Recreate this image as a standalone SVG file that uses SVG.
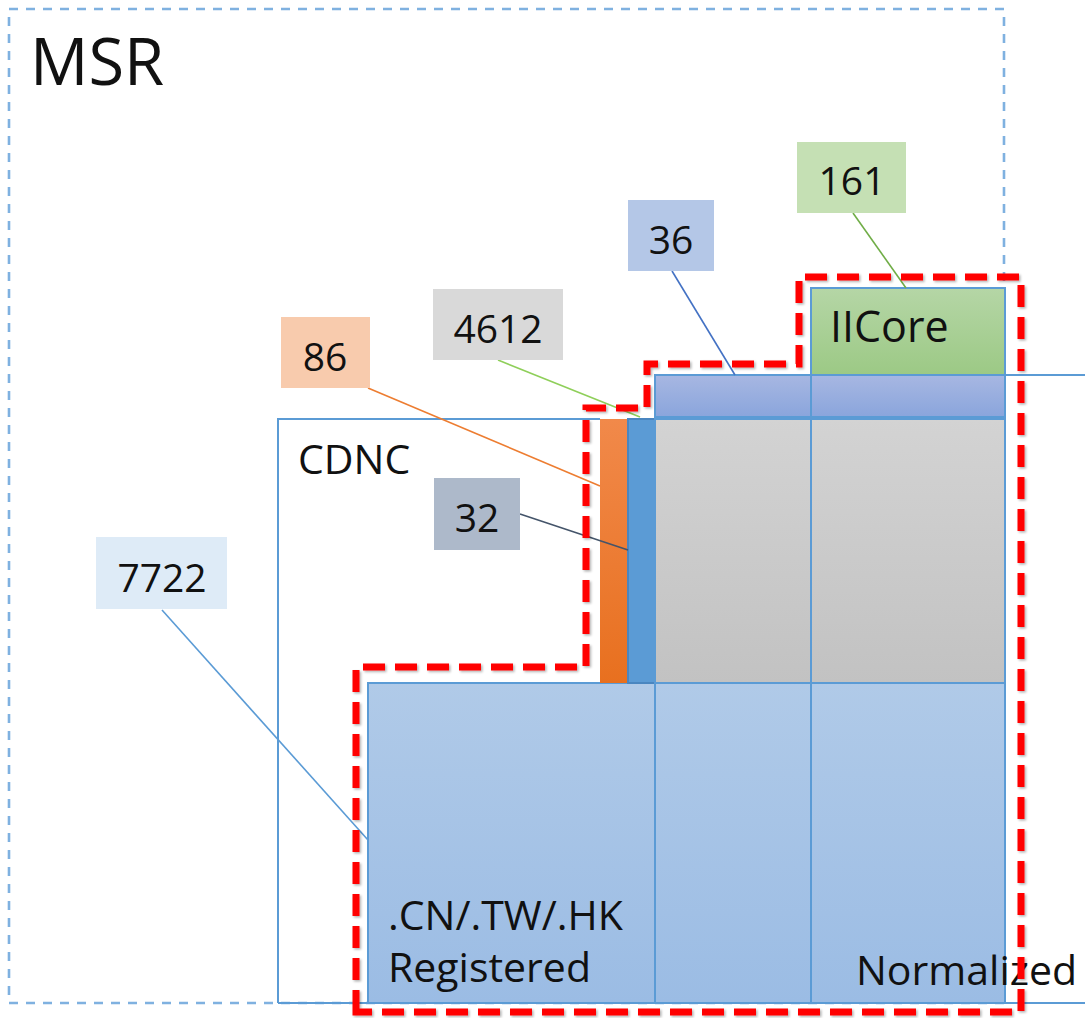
<svg xmlns="http://www.w3.org/2000/svg" width="1085" height="1018" viewBox="0 0 1085 1018">
<style>
  text { font-family: "Open Sans", "Liberation Sans", sans-serif; fill: #111; }
  .lbl { font-size: 39px; text-anchor: middle; }
  .big { font-size: 41px; }
  .edge { stroke: #5b9bd5; stroke-width: 2; }
  .conn { fill: none; stroke-width: 1.6; }
</style>
<defs>
  <linearGradient id="gBlue" x1="0" y1="0" x2="0" y2="1"><stop offset="0" stop-color="#b0cae8"/><stop offset="1" stop-color="#9bbce4"/></linearGradient>
  <linearGradient id="gGrey" x1="0" y1="0" x2="0" y2="1"><stop offset="0" stop-color="#d3d3d3"/><stop offset="1" stop-color="#c2c2c2"/></linearGradient>
  <linearGradient id="gPurp" x1="0" y1="0" x2="0" y2="1"><stop offset="0" stop-color="#a7b7e2"/><stop offset="1" stop-color="#8aa5dc"/></linearGradient>
  <linearGradient id="gGreen" x1="0" y1="0" x2="0" y2="1"><stop offset="0" stop-color="#b5d6a6"/><stop offset="1" stop-color="#9cc985"/></linearGradient>
  <linearGradient id="gOrange" x1="0" y1="0" x2="0" y2="1"><stop offset="0" stop-color="#f1894a"/><stop offset="1" stop-color="#e8701f"/></linearGradient>
  <filter id="sh" x="-5%" y="-5%" width="110%" height="110%"><feDropShadow dx="1.5" dy="1.5" stdDeviation="1.2" flood-color="#000" flood-opacity="0.3"/></filter>
</defs>

<g id="msr">
  <rect x="9" y="9" width="995" height="994" fill="none" stroke="#7fb1e0" stroke-width="2.6" stroke-dasharray="9 8"/>
  <text x="30" y="85" font-size="65">MSR</text>
</g>

<g id="cdnc">
  <path d="M278 1003 V419 H600" fill="none" class="edge"/>
  <line x1="278" y1="1003" x2="368" y2="1003" class="edge"/>
  <line x1="1005" y1="1003" x2="1085" y2="1003" class="edge"/>
  <line x1="1005" y1="375" x2="1085" y2="375" class="edge"/>
  <text x="298" y="474" class="big">CDNC</text>
</g>

<g id="registered">
  <rect x="368" y="683" width="637" height="320" fill="url(#gBlue)" class="edge"/>
  <text x="388" y="930" class="big">.CN/.TW/.HK</text>
  <text x="388" y="982" class="big">Registered</text>
</g>

<g id="grey-area">
  <rect x="655" y="419" width="350" height="264" fill="url(#gGrey)" class="edge"/>
</g>

<g id="band36">
  <rect x="655" y="375" width="350" height="42" fill="url(#gPurp)" class="edge"/>
</g>

<g id="iicore">
  <rect x="811" y="288" width="194" height="87" fill="url(#gGreen)" class="edge"/>
  <text x="830" y="342" font-size="43">IICore</text>
</g>

<g id="bar86">
  <rect x="600" y="419" width="28" height="264" fill="url(#gOrange)"/>
</g>
<g id="bar32">
  <rect x="628" y="419" width="27" height="264" fill="#5b9bd5" stroke="#4a86c0" stroke-width="2"/>
</g>

<g id="dividers">
  <line x1="655" y1="375" x2="655" y2="1003" class="edge"/>
  <line x1="811" y1="288" x2="811" y2="1003" class="edge"/>
</g>

<g id="normalized">
  <text x="856" y="985" class="big">Normalized</text>
</g>

<g id="connectors">
  <line x1="853" y1="213" x2="906" y2="288" stroke="#70ad47" class="conn"/>
  <line x1="672" y1="271" x2="735" y2="375" stroke="#4472c4" class="conn"/>
  <line x1="498" y1="360" x2="640" y2="417" stroke="#8fcf5a" class="conn"/>
  <line x1="368" y1="388" x2="600" y2="486" stroke="#ed7d31" class="conn"/>
  <line x1="520" y1="514" x2="628" y2="550" stroke="#44546a" class="conn"/>
  <line x1="162" y1="610" x2="368" y2="840" stroke="#5b9bd5" class="conn"/>
</g>

<g id="label161"><rect x="797" y="142" width="109" height="71" fill="#c5e0b4"/><text x="852" y="195" class="lbl">161</text></g>
<g id="label36"><rect x="628" y="200" width="86" height="71" fill="#b4c7e7"/><text x="671" y="254" class="lbl">36</text></g>
<g id="label4612"><rect x="433" y="289" width="130" height="71" fill="#d9d9d9"/><text x="498" y="343" class="lbl">4612</text></g>
<g id="label86"><rect x="281" y="317" width="89" height="71" fill="#f8cbad"/><text x="325" y="371" class="lbl">86</text></g>
<g id="label32"><rect x="434" y="478" width="86" height="72" fill="#adb9ca"/><text x="477" y="532" class="lbl">32</text></g>
<g id="label7722"><rect x="96" y="537" width="131" height="72" fill="#deebf7"/><text x="162" y="592" class="lbl">7722</text></g>

<g id="highlight">
  <path d="M356 1012 V667 H586 V408 H647 V364 H799 V277 H1021 V1012 Z" fill="none" stroke="#ff0000" stroke-width="7" stroke-dasharray="22 10" filter="url(#sh)"/>
</g>
</svg>
